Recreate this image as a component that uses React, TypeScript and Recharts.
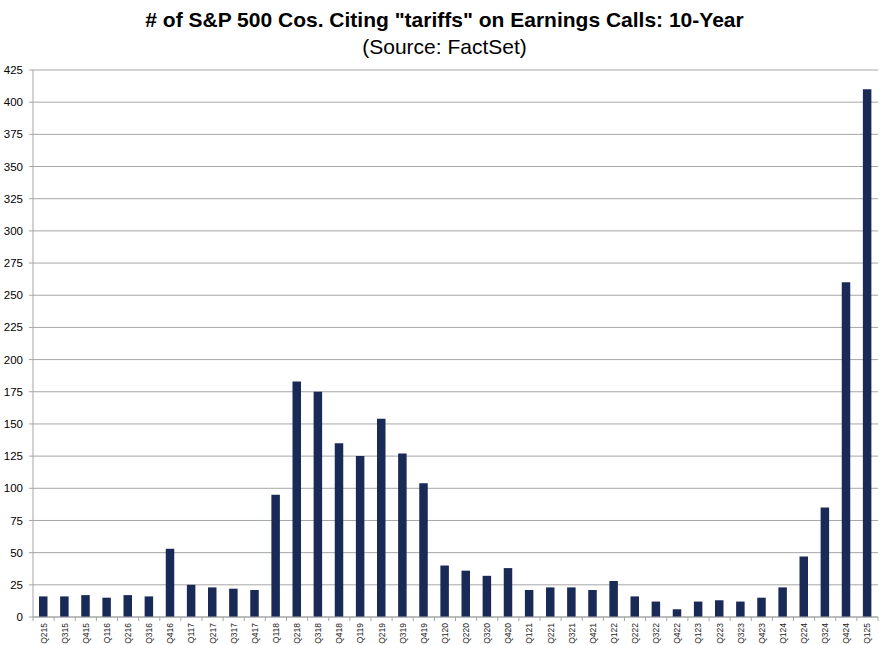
import React from "react"
import { BarChart, Bar, XAxis, YAxis, CartesianGrid } from "recharts"

const quarters = [
    "Q215", "Q315", "Q415", "Q116", "Q216", "Q316", "Q416", "Q117", "Q217", "Q317",
    "Q417", "Q118", "Q218", "Q318", "Q418", "Q119", "Q219", "Q319", "Q419", "Q120",
    "Q220", "Q320", "Q420", "Q121", "Q221", "Q321", "Q421", "Q122", "Q222", "Q322",
    "Q422", "Q123", "Q223", "Q323", "Q423", "Q124", "Q224", "Q324", "Q424", "Q125",
]

const companies = [
    16, 16, 17, 15, 17, 16, 53, 25, 23, 22,
    21, 95, 183, 175, 135, 125, 154, 127, 104, 40,
    36, 32, 38, 21, 23, 23, 21, 28, 16, 12,
    6, 12, 13, 12, 15, 23, 47, 85, 260, 410,
]

const yTicks = [0, 25, 50, 75, 100, 125, 150, 175, 200, 225, 250, 275, 300, 325, 350, 375, 400, 425]

const data = quarters.map((q, i) => ({ quarter: q, count: companies[i] }))

const FONT = "'Liberation Sans', Arial, sans-serif"
const GRID = "#a6a6a6"
const BAR = "#1a2a57"

const CHART_W = 889
const CHART_H = 645
const LEFT = 33
const RIGHT = 11
const band = (CHART_W - LEFT - RIGHT) / quarters.length

function QuarterTick(props: any) {
    const { x, y, payload, index } = props
    const isLast = index === quarters.length - 1
    return (
        <g>
            <line x1={x - band / 2} x2={x - band / 2} y1={y} y2={y + 4} stroke={GRID} />
            {isLast && (
                <line x1={x + band / 2} x2={x + band / 2} y1={y} y2={y + 4} stroke={GRID} />
            )}
            <text
                x={x}
                y={y + 6}
                transform={`rotate(-90, ${x}, ${y + 6})`}
                textAnchor="end"
                dominantBaseline="central"
                fontSize={8.5}
                fontFamily={FONT}
                fill="#222"
            >
                {payload.value}
            </text>
        </g>
    )
}

export default function App() {
    return (
        <div style={{ position: "absolute", left: 0, top: 0, width: CHART_W, height: CHART_H, background: "#fff" }}>
            <div
                style={{
                    position: "absolute",
                    top: 8,
                    left: 0,
                    width: CHART_W,
                    textAlign: "center",
                    fontFamily: FONT,
                    fontWeight: "bold",
                    fontSize: 21,
                    lineHeight: "23.5px",
                    color: "#000",
                }}
            >
                # of S&amp;P 500 Cos. Citing "tariffs" on Earnings Calls: 10-Year
            </div>
            <div
                style={{
                    position: "absolute",
                    top: 35,
                    left: 0,
                    width: CHART_W,
                    textAlign: "center",
                    fontFamily: FONT,
                    fontSize: 21,
                    lineHeight: "23.5px",
                    color: "#000",
                }}
            >
                (Source: FactSet)
            </div>
            <BarChart
                width={CHART_W}
                height={CHART_H}
                data={data}
                margin={{ top: 70, right: RIGHT, left: 0, bottom: 0 }}
            >
                <CartesianGrid vertical={false} stroke={GRID} />
                <XAxis
                    dataKey="quarter"
                    height={28}
                    interval={0}
                    tickLine={false}
                    tickSize={0}
                    tickMargin={0}
                    axisLine={{ stroke: GRID }}
                    tick={<QuarterTick />}
                />
                <YAxis
                    width={LEFT}
                    domain={[0, 425]}
                    ticks={yTicks}
                    interval={0}
                    tickSize={4}
                    tickMargin={6}
                    tickLine={{ stroke: GRID }}
                    axisLine={{ stroke: GRID }}
                    tick={{ fontSize: 11.5, fontFamily: FONT, fill: "#000" }}
                />
                <Bar dataKey="count" fill={BAR} barSize={8.5} isAnimationActive={false} />
            </BarChart>
        </div>
    )
}
